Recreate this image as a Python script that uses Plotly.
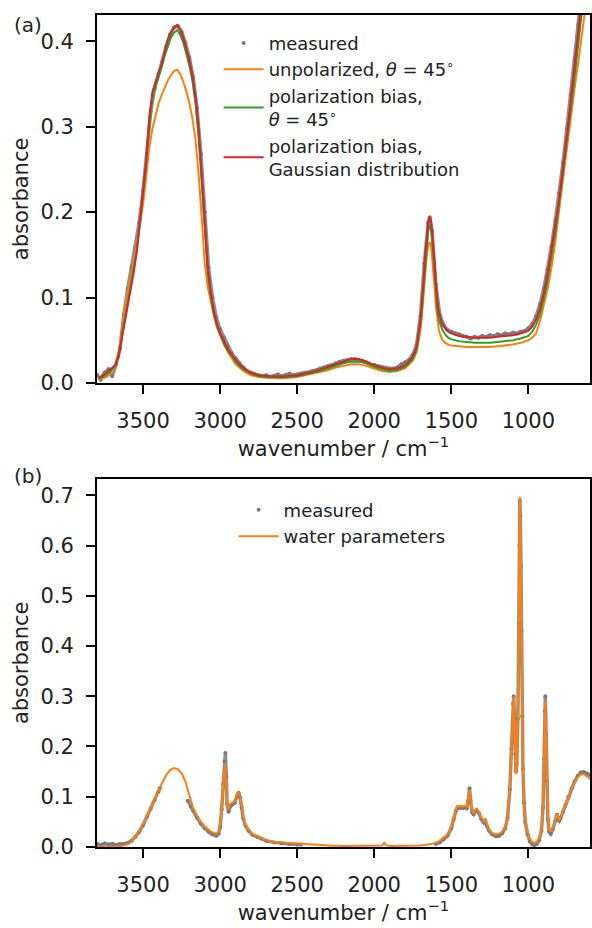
import plotly.graph_objects as go

W, H = 592, 928

# ---------------- panel (a) data ----------------
wn_fit_a = [3790, 3750, 3720, 3700, 3680, 3660, 3640, 3620, 3600, 3580, 3560, 3540, 3520, 3500,
            3480, 3460, 3440, 3420, 3400, 3380, 3360, 3340, 3320, 3300, 3280, 3260, 3240, 3220,
            3200, 3180, 3160, 3140, 3120, 3100, 3080, 3060, 3040, 3020, 3000, 2975, 2950, 2925,
            2900, 2875, 2850, 2800, 2750, 2700, 2650, 2600, 2550, 2500, 2450, 2400, 2350, 2300,
            2250, 2200, 2150, 2100, 2050, 2000, 1950, 1900, 1850, 1800, 1775, 1750, 1725, 1700,
            1690, 1680, 1670, 1660, 1650, 1640, 1630, 1620, 1610, 1600, 1590, 1580, 1560, 1540,
            1520, 1500, 1450, 1400, 1350, 1300, 1250, 1200, 1150, 1100, 1050, 1000, 975, 950,
            925, 900, 875, 850, 825, 800, 775, 750, 725, 700, 675, 650, 625, 600]

unpolarized = [0.004, 0.006, 0.009, 0.013, 0.022, 0.035, 0.055, 0.085, 0.105, 0.122, 0.143, 0.163,
               0.185, 0.209, 0.240, 0.275, 0.297, 0.313, 0.327, 0.337, 0.346, 0.354, 0.360, 0.365,
               0.367, 0.362, 0.353, 0.342, 0.328, 0.310, 0.285, 0.245, 0.195, 0.140, 0.112, 0.093,
               0.078, 0.065, 0.055, 0.045, 0.036, 0.029, 0.022, 0.018, 0.014, 0.009, 0.007, 0.006,
               0.0055, 0.0055, 0.006, 0.007, 0.009, 0.011, 0.013, 0.015, 0.018, 0.020, 0.022, 0.022,
               0.020, 0.017, 0.014, 0.013, 0.014, 0.017, 0.021, 0.026, 0.036, 0.062, 0.080, 0.103,
               0.127, 0.148, 0.161, 0.165, 0.158, 0.140, 0.115, 0.090, 0.072, 0.061, 0.051, 0.047,
               0.045, 0.044, 0.043, 0.042, 0.042, 0.042, 0.042, 0.043, 0.044, 0.045, 0.047, 0.050,
               0.053, 0.058, 0.072, 0.090, 0.110, 0.135, 0.165, 0.203, 0.240, 0.275, 0.310, 0.345,
               0.377, 0.410, 0.445, 0.480]

bias_45 = [0.005, 0.008, 0.012, 0.016, 0.021, 0.032, 0.052, 0.075, 0.096, 0.114, 0.133, 0.156,
           0.188, 0.218, 0.255, 0.302, 0.333, 0.347, 0.358, 0.369, 0.383, 0.395, 0.404, 0.410,
           0.413, 0.408, 0.399, 0.386, 0.372, 0.354, 0.328, 0.290, 0.238, 0.180, 0.128, 0.100,
           0.080, 0.066, 0.056, 0.046, 0.038, 0.031, 0.025, 0.020, 0.016, 0.011, 0.008, 0.007,
           0.0065, 0.0065, 0.007, 0.008, 0.010, 0.012, 0.014, 0.017, 0.020, 0.023, 0.025, 0.025,
           0.023, 0.019, 0.016, 0.014, 0.015, 0.019, 0.023, 0.028, 0.039, 0.069, 0.088, 0.112,
           0.138, 0.162, 0.178, 0.185, 0.178, 0.158, 0.130, 0.103, 0.084, 0.074, 0.063, 0.057,
           0.053, 0.051, 0.049, 0.048, 0.047, 0.047, 0.047, 0.048, 0.049, 0.050, 0.052, 0.055,
           0.060, 0.068, 0.080, 0.098, 0.120, 0.147, 0.177, 0.210, 0.245, 0.283, 0.320, 0.358,
           0.398, 0.440, 0.480, 0.520]

bias_gauss = [0.006, 0.010, 0.015, 0.018, 0.021, 0.030, 0.050, 0.072, 0.093, 0.112, 0.130, 0.155,
              0.190, 0.222, 0.260, 0.310, 0.340, 0.352, 0.362, 0.373, 0.388, 0.401, 0.410, 0.416,
              0.419, 0.414, 0.405, 0.392, 0.378, 0.360, 0.335, 0.300, 0.250, 0.190, 0.135, 0.105,
              0.083, 0.068, 0.058, 0.048, 0.040, 0.033, 0.027, 0.022, 0.018, 0.012, 0.009, 0.008,
              0.0075, 0.0075, 0.008, 0.009, 0.011, 0.013, 0.016, 0.019, 0.022, 0.025, 0.028, 0.028,
              0.025, 0.021, 0.018, 0.016, 0.017, 0.021, 0.025, 0.031, 0.042, 0.075, 0.095, 0.120,
              0.148, 0.172, 0.188, 0.195, 0.188, 0.168, 0.140, 0.112, 0.093, 0.082, 0.070, 0.064,
              0.060, 0.058, 0.055, 0.054, 0.053, 0.053, 0.053, 0.054, 0.055, 0.056, 0.058, 0.061,
              0.066, 0.074, 0.087, 0.105, 0.128, 0.155, 0.185, 0.215, 0.250, 0.290, 0.330, 0.370,
              0.415, 0.460, 0.500, 0.540]

wn_meas_a = [3800, 3775, 3750, 3725, 3700, 3675, 3650, 3625, 3600, 3575, 3550, 3525, 3500, 3475,
             3450, 3425, 3400, 3375, 3350, 3325, 3300, 3275, 3250, 3225, 3200, 3175, 3150, 3125,
             3100, 3075, 3050, 3025, 3000, 2975, 2950, 2925, 2900, 2875, 2850, 2825, 2800, 2775,
             2750, 2725, 2700, 2675, 2650, 2625, 2600, 2575, 2550, 2525, 2500, 2475, 2450, 2425,
             2400, 2375, 2350, 2325, 2300, 2275, 2250, 2225, 2200, 2175, 2150, 2125, 2100, 2075,
             2050, 2025, 2000, 1975, 1950, 1925, 1900, 1875, 1850, 1825, 1800, 1775, 1750, 1725,
             1700, 1675, 1650, 1640, 1625, 1610, 1600, 1575, 1550, 1525, 1500, 1475, 1450, 1425,
             1400, 1375, 1350, 1325, 1300, 1275, 1250, 1225, 1200, 1175, 1150, 1125, 1100, 1075,
             1050, 1025, 1000, 975, 950, 925, 900, 875, 850, 825, 800, 775, 750, 725, 700, 675, 650]

meas_a = [0.010, 0.004, 0.012, 0.016, 0.008, 0.022, 0.040, 0.080, 0.110, 0.135, 0.158, 0.188,
          0.225, 0.268, 0.318, 0.345, 0.362, 0.376, 0.394, 0.408, 0.416, 0.418, 0.411, 0.398,
          0.381, 0.358, 0.322, 0.268, 0.200, 0.135, 0.100, 0.077, 0.063, 0.053, 0.043, 0.035,
          0.029, 0.023, 0.018, 0.014, 0.012, 0.010, 0.009, 0.008, 0.009, 0.007, 0.008, 0.010,
          0.008, 0.009, 0.011, 0.009, 0.010, 0.011, 0.012, 0.012, 0.014, 0.015, 0.017, 0.018,
          0.020, 0.021, 0.023, 0.025, 0.026, 0.027, 0.028, 0.028, 0.027, 0.026, 0.024, 0.022,
          0.021, 0.019, 0.018, 0.017, 0.017, 0.017, 0.018, 0.022, 0.024, 0.027, 0.033, 0.045,
          0.078, 0.140, 0.188, 0.194, 0.178, 0.140, 0.115, 0.080, 0.068, 0.062, 0.060, 0.058,
          0.057, 0.055, 0.054, 0.052, 0.054, 0.053, 0.055, 0.054, 0.056, 0.055, 0.057, 0.056,
          0.058, 0.057, 0.059, 0.058, 0.060, 0.061, 0.064, 0.069, 0.078, 0.092, 0.110, 0.133,
          0.160, 0.190, 0.222, 0.258, 0.298, 0.338, 0.378, 0.420, 0.465]

# ---------------- panel (b) data ----------------
wn_fit_b = [3800, 3700, 3650, 3600, 3575, 3550, 3525, 3500, 3475, 3450, 3425, 3400, 3375, 3350,
            3325, 3300, 3275, 3250, 3225, 3200, 3175, 3150, 3125, 3100, 3075, 3050, 3025, 3010,
            3000, 2990, 2980, 2970, 2962, 2955, 2945, 2935, 2920, 2905, 2890, 2880, 2870, 2860,
            2850, 2835, 2815, 2790, 2760, 2730, 2700, 2650, 2600, 2550, 2500, 2450, 2400, 2300,
            2200, 2100, 2000, 1950, 1935, 1925, 1900, 1800, 1700, 1650, 1600, 1575, 1550, 1525,
            1500, 1485, 1470, 1460, 1450, 1440, 1425, 1410, 1400, 1390, 1382, 1375, 1365, 1355,
            1345, 1335, 1320, 1305, 1290, 1280, 1270, 1255, 1235, 1210, 1190, 1170, 1150, 1135,
            1120, 1110, 1100, 1095, 1090, 1085, 1080, 1075, 1068, 1062, 1058, 1055, 1052, 1048,
            1045, 1040, 1035, 1028, 1020, 1005, 990, 975, 960, 945, 930, 915, 905, 898, 893, 890,
            885, 880, 873, 865, 855, 840, 825, 815, 808, 800, 790, 775, 760, 740, 720, 700, 680,
            660, 640, 620, 600]

water_fit = [0.000, 0.000, 0.001, 0.005, 0.010, 0.020, 0.032, 0.046, 0.063, 0.080, 0.097, 0.113,
             0.128, 0.143, 0.153, 0.157, 0.155, 0.147, 0.130, 0.103, 0.078, 0.062, 0.050, 0.041,
             0.034, 0.029, 0.026, 0.030, 0.045, 0.075, 0.120, 0.165, 0.130, 0.085, 0.075, 0.085,
             0.088, 0.092, 0.105, 0.108, 0.100, 0.080, 0.060, 0.045, 0.035, 0.026, 0.022, 0.018,
             0.013, 0.010, 0.009, 0.008, 0.006, 0.005, 0.004, 0.003, 0.002, 0.002, 0.002, 0.003,
             0.008, 0.004, 0.002, 0.002, 0.003, 0.005, 0.008, 0.012, 0.018, 0.025, 0.040, 0.058,
             0.075, 0.082, 0.080, 0.082, 0.080, 0.082, 0.080, 0.095, 0.113, 0.095, 0.072, 0.068,
             0.074, 0.076, 0.070, 0.058, 0.052, 0.055, 0.045, 0.035, 0.028, 0.025, 0.026, 0.030,
             0.040, 0.060, 0.120, 0.200, 0.290, 0.300, 0.250, 0.180, 0.145, 0.160, 0.260, 0.450,
             0.600, 0.697, 0.660, 0.550, 0.420, 0.250, 0.150, 0.090, 0.055, 0.030, 0.016, 0.010,
             0.008, 0.010, 0.017, 0.035, 0.080, 0.170, 0.270, 0.290, 0.220, 0.130, 0.060, 0.035,
             0.030, 0.040, 0.055, 0.065, 0.058, 0.055, 0.060, 0.072, 0.085, 0.100, 0.115, 0.128,
             0.138, 0.144, 0.145, 0.140, 0.135]

wn_meas_b = [3800, 3775, 3750, 3725, 3700, 3675, 3650, 3625, 3600, 3575, 3550, 3525, 3500, 3475,
             3450, 3425, 3400, 3390, 3300, 3210, 3190, 3175, 3150, 3125, 3100, 3075, 3050, 3025,
             3010, 3000, 2990, 2980, 2972, 2966, 2960, 2955, 2945, 2935, 2920, 2905, 2890, 2880,
             2870, 2860, 2850, 2835, 2815, 2790, 2760, 2730, 2700, 2650, 2600, 2550, 2500, 2475,
             2000, 1600, 1575, 1550, 1525, 1500, 1485, 1470, 1460, 1450, 1440, 1425, 1410, 1400,
             1390, 1382, 1375, 1365, 1355, 1345, 1335, 1320, 1305, 1290, 1280, 1270, 1255, 1235,
             1210, 1190, 1170, 1150, 1135, 1120, 1110, 1100, 1095, 1090, 1085, 1080, 1075, 1068,
             1062, 1058, 1055, 1052, 1048, 1045, 1040, 1035, 1028, 1020, 1005, 990, 975, 960, 945,
             930, 915, 905, 898, 893, 890, 885, 880, 873, 865, 855, 840, 825, 815, 808, 800, 790,
             775, 760, 740, 720, 700, 680, 660, 640, 620, 600]

# None = spectral ranges without measured points
meas_b = [0.006, 0.004, 0.007, 0.005, 0.006, 0.004, 0.006, 0.006, 0.008, 0.012, 0.020, 0.030,
          0.043, 0.060, 0.076, 0.093, 0.110, 0.118, None, 0.092, 0.080, 0.072, 0.058, 0.046,
          0.037, 0.030, 0.025, 0.022, 0.026, 0.040, 0.075, 0.125, 0.170, 0.187, 0.140, 0.085,
          0.070, 0.080, 0.085, 0.088, 0.102, 0.108, 0.098, 0.078, 0.057, 0.042, 0.032, 0.024,
          0.020, 0.016, 0.012, 0.009, 0.007, 0.006, 0.005, 0.005, None, 0.006, 0.009, 0.015,
          0.022, 0.037, 0.055, 0.072, 0.078, 0.077, 0.079, 0.077, 0.079, 0.077, 0.092, 0.117,
          0.092, 0.069, 0.065, 0.071, 0.073, 0.067, 0.055, 0.049, 0.053, 0.042, 0.032, 0.025,
          0.021, 0.022, 0.027, 0.037, 0.058, 0.115, 0.195, 0.285, 0.300, 0.255, 0.185, 0.150,
          0.165, 0.255, 0.445, 0.600, 0.690, 0.660, 0.560, 0.430, 0.260, 0.155, 0.088, 0.050,
          0.025, 0.011, 0.005, 0.004, 0.006, 0.013, 0.032, 0.078, 0.175, 0.270, 0.300, 0.225,
          0.130, 0.055, 0.030, 0.026, 0.036, 0.052, 0.064, 0.055, 0.052, 0.058, 0.070, 0.084,
          0.100, 0.116, 0.130, 0.141, 0.148, 0.149, 0.146, 0.143]

x_ticks = [3500, 3000, 2500, 2000, 1500, 1000]
y_ticks_a = [0.0, 0.1, 0.2, 0.3, 0.4]
y_ticks_b = [0.0, 0.1, 0.2, 0.3, 0.4, 0.5, 0.6, 0.7]

GRAY = "#7a7a7a"
ORANGE = "#ff7f0e"
GREEN = "#2ca02c"
RED = "#d62728"
FONT = "DejaVu Sans"
LW = 2

fig = go.Figure()

# panel (a)
fig.add_trace(go.Scatter(x=wn_meas_a, y=meas_a, mode="lines", line=dict(color=GRAY, width=3.5),
                         opacity=0.85, showlegend=False, hoverinfo="skip", xaxis="x", yaxis="y"))
fig.add_trace(go.Scatter(x=wn_meas_a, y=meas_a, mode="markers", name="measured",
                         marker=dict(color=GRAY, size=4), xaxis="x", yaxis="y", legend="legend"))
fig.add_trace(go.Scatter(x=wn_fit_a, y=unpolarized, mode="lines",
                         name="unpolarized, <i>θ</i> = 45<sup>∘</sup>",
                         line=dict(color=ORANGE, width=LW), xaxis="x", yaxis="y", legend="legend"))
fig.add_trace(go.Scatter(x=wn_fit_a, y=bias_45, mode="lines",
                         name="polarization bias,<br><i>θ</i> = 45<sup>∘</sup>",
                         line=dict(color=GREEN, width=LW), xaxis="x", yaxis="y", legend="legend"))
fig.add_trace(go.Scatter(x=wn_fit_a, y=bias_gauss, mode="lines",
                         name="polarization bias,<br>Gaussian distribution",
                         line=dict(color=RED, width=LW), xaxis="x", yaxis="y", legend="legend"))

# panel (b)
fig.add_trace(go.Scatter(x=wn_meas_b, y=meas_b, mode="lines", line=dict(color=GRAY, width=3.5),
                         opacity=0.85, showlegend=False, hoverinfo="skip", connectgaps=False,
                         xaxis="x2", yaxis="y2"))
fig.add_trace(go.Scatter(x=wn_meas_b, y=meas_b, mode="markers", name="measured",
                         marker=dict(color=GRAY, size=4), xaxis="x2", yaxis="y2", legend="legend2"))
fig.add_trace(go.Scatter(x=wn_fit_b, y=water_fit, mode="lines", name="water parameters",
                         line=dict(color=ORANGE, width=LW), xaxis="x2", yaxis="y2",
                         legend="legend2"))

xdom = [97 / W, 591 / W]
ydom_a = [(H - 388) / H, (H - 15) / H]
ydom_b = [(H - 858) / H, (H - 485) / H]

axis_common = dict(showgrid=False, zeroline=False, showline=True, linecolor="black", linewidth=1.5,
                   mirror=True, ticks="outside", ticklen=9, tickwidth=1.5, tickcolor="black",
                   tickfont=dict(family=FONT, size=21, color="#222"))

title_font = dict(family=FONT, size=21, color="#222")

fig.update_layout(
    width=W, height=H, margin=dict(l=0, r=0, t=0, b=0),
    paper_bgcolor="white", plot_bgcolor="white",
    font=dict(family=FONT, color="#222"),
    xaxis=dict(domain=xdom, anchor="y", range=[3800, 600], tickvals=x_ticks,
               ticklabelstandoff=9,
               title=dict(text="wavenumber / cm<sup>−1</sup>", font=title_font, standoff=6),
               **axis_common),
    yaxis=dict(domain=ydom_a, anchor="x", range=[0, 0.431], tickvals=y_ticks_a,
               tickformat=".1f", ticklabelstandoff=8,
               title=dict(text="absorbance", font=title_font, standoff=6),
               **axis_common),
    xaxis2=dict(domain=xdom, anchor="y2", range=[3800, 600], tickvals=x_ticks,
                ticklabelstandoff=9,
                title=dict(text="wavenumber / cm<sup>−1</sup>", font=title_font, standoff=6),
                **axis_common),
    yaxis2=dict(domain=ydom_b, anchor="x2", range=[0, 0.733], tickvals=y_ticks_b,
                tickformat=".1f", ticklabelstandoff=8,
                title=dict(text="absorbance", font=title_font, standoff=6),
                **axis_common),
    legend=dict(x=219 / W, y=1 - 25 / H, xanchor="left", yanchor="top", bgcolor="rgba(0,0,0,0)",
                font=dict(family=FONT, size=18, color="#222"), itemwidth=40, tracegroupgap=0),
    legend2=dict(x=234 / W, y=1 - 498 / H, xanchor="left", yanchor="top",
                 bgcolor="rgba(0,0,0,0)", font=dict(family=FONT, size=18, color="#222"),
                 itemwidth=40, tracegroupgap=0),
    annotations=[
        dict(text="(a)", x=12 / W, y=1 - 25 / H, xref="paper", yref="paper", xanchor="left",
             yanchor="middle", showarrow=False, font=dict(family=FONT, size=20, color="#222")),
        dict(text="(b)", x=12 / W, y=1 - 482 / H, xref="paper", yref="paper", xanchor="left",
             yanchor="middle", showarrow=False, font=dict(family=FONT, size=20, color="#222")),
    ],
)

fig.write_html("out.html")
